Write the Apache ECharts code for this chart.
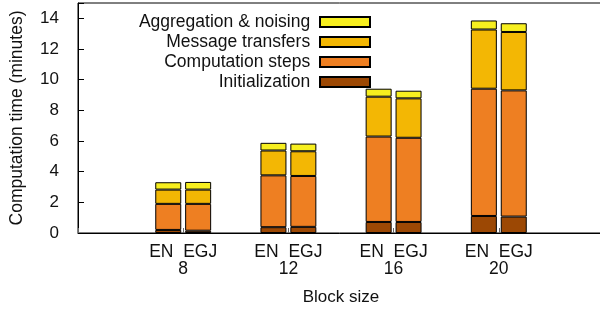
<!DOCTYPE html>
<html>
<head>
<meta charset="utf-8">
<script src="https://cdn.jsdelivr.net/npm/echarts@6/dist/echarts.min.js"></script>
<style>
    html, body { margin: 0; padding: 0; background: #fff; }
    #main { width: 600px; height: 309px; }
</style>
</head>
<body>
<div id="main"></div>
<script>
// block sizes (empty slots at both ends keep the gnuplot-like margins)
var blockSizes = ['', '8', '12', '16', '20', '']
var yTicks = [0, 2, 4, 6, 8, 10, 12, 14]

// minutes, per block size 8 / 12 / 16 / 20
var enInit = [0.2, 0.38, 0.72, 1.11]
var enComp = [1.7, 3.38, 5.57, 8.3]
var enMsg = [0.93, 1.62, 2.6, 3.86]
var enAgg = [0.48, 0.5, 0.52, 0.59]

var egjInit = [0.15, 0.4, 0.72, 1.07]
var egjComp = [1.75, 3.32, 5.49, 8.23]
var egjMsg = [0.93, 1.61, 2.57, 3.81]
var egjAgg = [0.5, 0.5, 0.5, 0.57]

var names = ['Initialization', 'Computation steps', 'Message transfers', 'Aggregation & noising']
var colors = ['#9c4804', '#ee7f22', '#f3b704', '#f7ef1f']

function pad(arr) {
    return ['-'].concat(arr).concat(['-'])
}

function makeSeries(stack, lists) {
    return lists.map(function (list, i) {
        return {
            name: names[i],
            type: 'bar',
            stack: stack,
            barWidth: 26,
            barGap: '15%',
            data: pad(list),
            itemStyle: {
                color: colors[i],
                borderColor: '#000',
                borderWidth: 1
            }
        }
    })
}

var font = 'Liberation Sans'

var chart = echarts.init(document.getElementById('main'))

var option = {
    animation: false,
    textStyle: { fontFamily: font },
    grid: {
        left: 78,
        top: 3,
        width: 526,
        height: 230,
        outerBoundsMode: 'none',
        containLabel: false,
        show: true,
        borderColor: '#000',
        borderWidth: 1
    },
    legend: {
        data: names.slice().reverse(),
        orient: 'vertical',
        align: 'right',
        icon: 'rect',
        right: 229,
        top: 13,
        padding: 0,
        itemWidth: 50,
        itemHeight: 10,
        itemGap: 2,
        formatter: function (name) {
            return name + ' '
        },
        textStyle: { fontFamily: font, fontSize: 17.5, color: '#111' }
    },
    xAxis: {
        type: 'category',
        data: blockSizes,
        boundaryGap: false,
        name: 'Block size',
        nameLocation: 'middle',
        nameGap: 56,
        nameTextStyle: { fontFamily: font, fontSize: 17, color: '#111' },
        axisLine: { lineStyle: { color: '#000', width: 1 } },
        axisTick: { inside: true, length: 5, lineStyle: { color: '#666' } },
        axisLabel: {
            interval: 0,
            margin: 11,
            fontFamily: font,
            fontSize: 17.5,
            lineHeight: 16.5,
            color: '#111',
            formatter: function (v) {
                return v ? 'EN  EGJ\n' + v : ''
            }
        }
    },
    yAxis: {
        type: 'value',
        min: 0,
        max: 15,
        interval: 2,
        name: 'Computation time (minutes)',
        nameLocation: 'middle',
        nameGap: 52,
        nameTextStyle: { fontFamily: font, fontSize: 17.5, color: '#111' },
        splitLine: { show: false },
        axisLine: { show: true, lineStyle: { color: '#000', width: 1 } },
        axisTick: { show: true, inside: true, length: 6, lineStyle: { color: '#000' } },
        axisLabel: {
            margin: 19,
            fontFamily: font,
            fontSize: 17,
            color: '#111',
            formatter: function (v) {
                return yTicks.indexOf(v) >= 0 ? String(v) : ''
            }
        }
    },
    series: makeSeries('EN', [enInit, enComp, enMsg, enAgg])
        .concat(makeSeries('EGJ', [egjInit, egjComp, egjMsg, egjAgg]))
}

chart.setOption(option)
</script>
</body>
</html>
